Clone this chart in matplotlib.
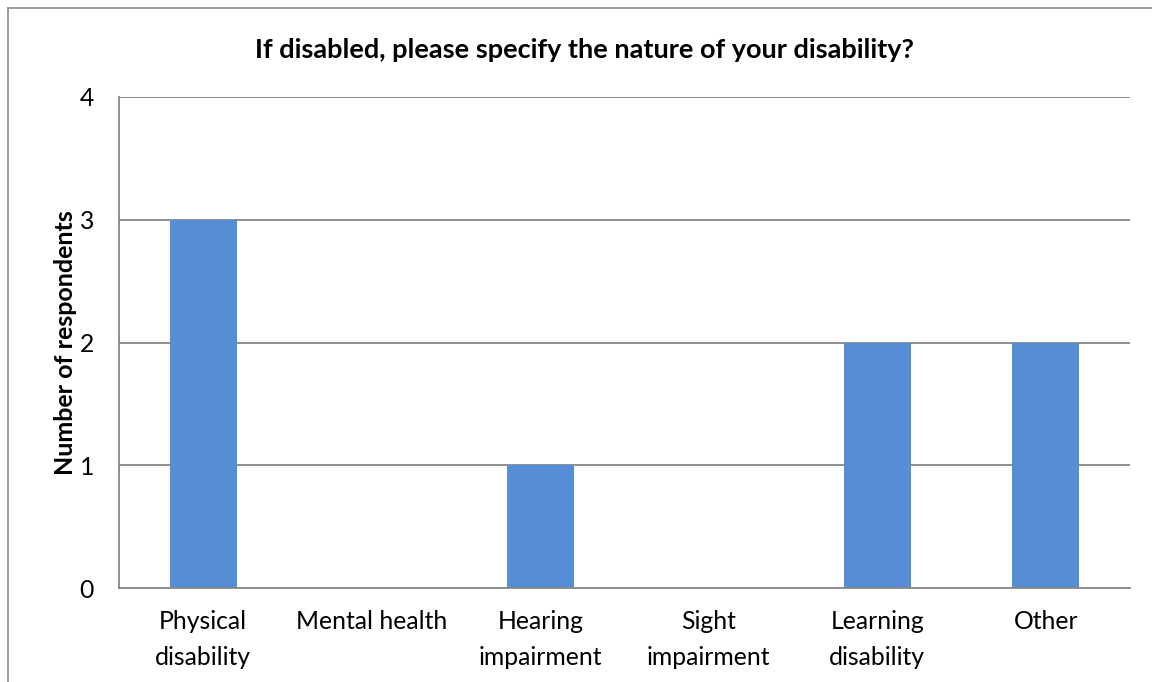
import matplotlib
matplotlib.use('Agg')
import matplotlib.pyplot as plt
from matplotlib.lines import Line2D

categories = ['Physical\ndisability', 'Mental health', 'Hearing\nimpairment',
              'Sight\nimpairment', 'Learning\ndisability', 'Other']
counts = [3, 0, 1, 0, 2, 2]
y_ticks = [0, 1, 2, 3, 4]

plt.rcParams['font.family'] = ['Lato', 'DejaVu Sans']

fig = plt.figure(figsize=(11.52, 6.82), dpi=100)
ax = fig.add_axes([119 / 1152, 1 - 588 / 682, (1130 - 119) / 1152, (588 - 97) / 682])

# outer chart frame (left and top edges visible, rest cropped)
fx, fy = 7.5 / 1152, 1 - 7.5 / 682
fig.add_artist(Line2D([fx, fx], [0, fy], transform=fig.transFigure, color='#8c8c8c', lw=1.2))
fig.add_artist(Line2D([fx, 1], [fy, fy], transform=fig.transFigure, color='#8c8c8c', lw=1.2))

x = range(len(categories))
ax.bar(x, counts, width=0.4, color='#558ed5', zorder=2)

ax.set_xlim(-0.5, len(categories) - 0.5)
ax.set_ylim(0, 4)
ax.set_yticks(y_ticks)
ax.set_xticks(list(x))
ax.set_xticklabels(categories, fontsize=17.8, linespacing=1.65)
ax.tick_params(axis='y', labelsize=17.8, length=0, pad=18)
ax.tick_params(axis='x', length=0, pad=16)
ax.grid(axis='y', color='#878787', lw=1.3, zorder=1)

for side in ['top', 'right']:
    ax.spines[side].set_visible(False)
for side in ['left', 'bottom']:
    ax.spines[side].set_color('#878787')
    ax.spines[side].set_linewidth(1.3)

ax.set_ylabel('Number of respondents', fontsize=18, fontweight='bold', labelpad=2)
fig.text(584 / 1152, 1 - 50 / 682, 'If disabled, please specify the nature of your disability?',
         ha='center', va='center', fontsize=19.5, fontweight='bold')

fig.savefig('out.png', dpi=100)
